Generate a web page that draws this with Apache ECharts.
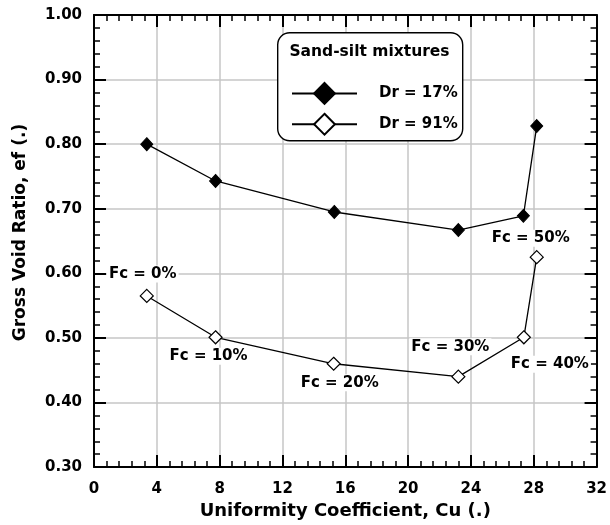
<!DOCTYPE html>
<html>
<head>
<meta charset="utf-8">
<script src="https://cdn.jsdelivr.net/npm/echarts@6/dist/echarts.min.js"></script>
<style>
  html, body { margin: 0; padding: 0; background: #fff; }
  #chart { width: 610px; height: 525px; }
</style>
</head>
<body>
<div id="chart"></div>
<script>
// Uniformity coefficient (Cu) and gross void ratio (ef) for sand-silt mixtures
const cuLoose = [3.36, 7.74, 15.3, 23.2, 27.34, 28.19];
const efLoose = [0.800, 0.743, 0.695, 0.667, 0.689, 0.828];
const cuDense = [3.36, 7.74, 15.26, 23.2, 27.37, 28.19];
const efDense = [0.565, 0.501, 0.460, 0.440, 0.501, 0.625];
const fcLabels = ['Fc = 0%', 'Fc = 10%', 'Fc = 20%', 'Fc = 30%', 'Fc = 40%', 'Fc = 50%'];
const seriesNames = ['Dr = 17%', 'Dr = 91%'];
const legendTitle = 'Sand-silt mixtures';
const xTitle = 'Uniformity Coefficient, Cu (.)';
const yTitle = 'Gross Void Ratio, ef (.)';

// label placement relative to each marker centre (px)
const labelOffsets = [[-4, -22], [-7, 19], [6, 19], [-8, -30], [26, 27], [-6, -19]];

const FONT = 'DejaVu Sans';
const txt = { fontFamily: FONT, fontWeight: 'bold', color: '#000' };

const pairs = (xs, ys) => xs.map((x, i) => [x, ys[i]]);

const chart = echarts.init(document.getElementById('chart'), null, { renderer: 'canvas' });

const frameAxis = {
  axisLine: { show: true, onZero: false, lineStyle: { color: '#000', width: 2 } },
  axisTick: { show: true, inside: true, length: 12, lineStyle: { color: '#000', width: 2 } },
  minorTick: { show: true, splitNumber: 5, length: 6, lineStyle: { color: '#000', width: 1.5 } },
};

const option = {
  animation: false,
  backgroundColor: '#fff',
  grid: { left: 94, right: 9, top: 15, bottom: 57, containLabel: false },
  xAxis: [
    Object.assign({
      type: 'value', position: 'bottom', min: 0, max: 32, interval: 4,
      name: xTitle, nameLocation: 'middle', nameGap: 30,
      nameTextStyle: Object.assign({ fontSize: 18 }, txt),
      axisLabel: Object.assign({ fontSize: 15, margin: 15 }, txt),
      splitLine: { show: true, lineStyle: { color: '#c6c6c6', width: 1.5 } },
    }, frameAxis),
    Object.assign({
      type: 'value', position: 'top', min: 0, max: 32, interval: 4,
      axisLabel: { show: false }, splitLine: { show: false },
    }, frameAxis),
  ],
  yAxis: [
    Object.assign({
      type: 'value', position: 'left', min: 0.3, max: 1.0, interval: 0.1,
      name: yTitle, nameLocation: 'middle', nameGap: 65, nameRotate: 90,
      nameTextStyle: Object.assign({ fontSize: 17, padding: [0, 0, 0, 17] }, txt),
      axisLabel: Object.assign({ fontSize: 15, margin: 12, formatter: v => v.toFixed(2) }, txt),
      splitLine: { show: true, lineStyle: { color: '#c6c6c6', width: 1.5 } },
    }, frameAxis),
    Object.assign({
      type: 'value', position: 'right', min: 0.3, max: 1.0, interval: 0.1,
      axisLabel: { show: false }, splitLine: { show: false },
    }, frameAxis),
  ],
  legend: {
    orient: 'vertical', left: 286, top: 77, z: 10,
    itemWidth: 65, itemHeight: 26, itemGap: 8,
    textStyle: Object.assign({ fontSize: 15, padding: [0, 0, 0, 17] }, txt),
    data: seriesNames,
  },
  graphic: [
    {
      type: 'rect', z: 5, left: 277, top: 32,
      shape: { width: 185, height: 108, r: 12 },
      style: { fill: '#fff', stroke: '#000', lineWidth: 1.4 },
    },
    {
      type: 'text', z: 6, x: 369.5, y: 52,
      style: Object.assign({ text: legendTitle, fontSize: 15.5, align: 'center', verticalAlign: 'middle', fill: '#000' },
        { fontFamily: FONT, fontWeight: 'bold' }),
    },
  ],
  series: [
    {
      name: seriesNames[0], type: 'line', data: pairs(cuLoose, efLoose),
      symbol: 'diamond', symbolSize: [12, 13],
      lineStyle: { color: '#000', width: 1.3 },
      itemStyle: { color: '#000', borderColor: '#000', borderWidth: 1 },
      z: 3,
    },
    {
      name: seriesNames[1], type: 'line',
      data: pairs(cuDense, efDense).map((p, i) => ({
        value: p,
        label: { offset: labelOffsets[i] },
      })),
      symbol: 'diamond', symbolSize: [13, 13],
      lineStyle: { color: '#000', width: 1.3 },
      itemStyle: { color: '#fff', borderColor: '#000', borderWidth: 1.2 },
      label: Object.assign({
        show: true, position: 'inside', fontSize: 15,
        backgroundColor: '#fff', padding: [1, 2],
        formatter: p => fcLabels[p.dataIndex],
      }, txt),
      z: 3,
    },
  ],
};

chart.setOption(option);
</script>
</body>
</html>
